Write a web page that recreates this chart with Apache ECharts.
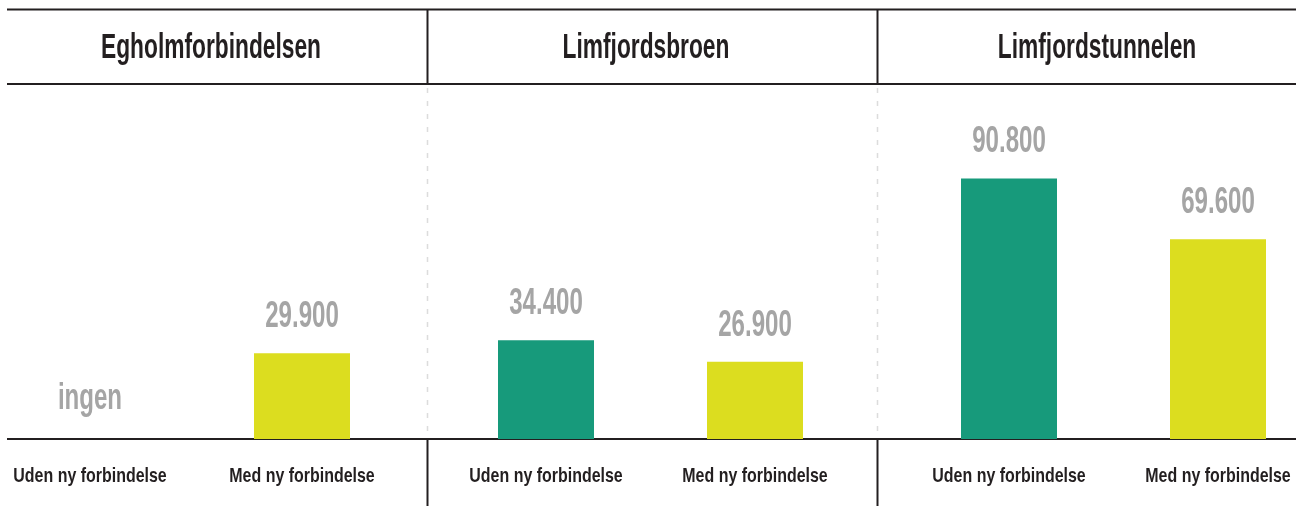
<!DOCTYPE html>
<html>
<head>
<meta charset="utf-8">
<script src="https://cdn.jsdelivr.net/npm/echarts@6/dist/echarts.min.js"></script>
<style>
  html, body { margin: 0; padding: 0; background: #fff; }
  #main { width: 1299px; height: 506px; }
</style>
</head>
<body>
<div id="main"></div>
<script>
var dom = document.getElementById('main');
var myChart = echarts.init(dom);

// data
var panels = ['Egholmforbindelsen', 'Limfjordsbroen', 'Limfjordstunnelen'];
var categories = ['Uden ny forbindelse', 'Med ny forbindelse'];
var udenValues = [0, 34400, 90800];
var medValues = [29900, 26900, 69600];

var barColors = ['#179a7b', '#dcdd1f'];
var textFont = '"Liberation Sans", Arial, sans-serif';

// grid placement per panel (left, width) - categories sit on the grid edges
var gridPos = [[90, 212], [546, 209], [1009, 209]];
var titleX = [211, 646, 1097];

function fmt(v) {
    if (v === 0) return 'ingen';
    return String(v).replace(/\B(?=(\d{3})+(?!\d))/g, '.');
}

// condensed labels: value above bar, category name below baseline
function renderLabels(params, api) {
    var idx = api.value(0);
    var v = api.value(1);
    var top = api.coord([idx, v]);
    var base = api.coord([idx, 0]);
    return {
        type: 'group',
        children: [{
            type: 'text',
            x: top[0],
            y: top[1] - (v === 0 ? 43 : 39) + 2.7,
            scaleX: 0.65,
            style: {
                text: fmt(v),
                font: 'bold 37px ' + textFont,
                fill: '#a5a5a5',
                textAlign: 'center',
                textVerticalAlign: 'middle'
            }
        }, {
            type: 'text',
            x: base[0],
            y: base[1] + 37,
            scaleX: 0.76,
            style: {
                text: categories[idx],
                font: 'bold 21px ' + textFont,
                fill: '#231f20',
                textAlign: 'center',
                textVerticalAlign: 'middle'
            }
        }]
    };
}

var grids = [], xAxes = [], yAxes = [], series = [], graphics = [];

panels.forEach(function (name, i) {
    grids.push({ left: gridPos[i][0], width: gridPos[i][1], top: 152, bottom: 67 });
    xAxes.push({
        type: 'category',
        gridIndex: i,
        data: categories,
        boundaryGap: false,
        axisLine: { show: false },
        axisTick: { show: false },
        axisLabel: { show: false },
        splitLine: { show: false }
    });
    yAxes.push({
        type: 'value',
        gridIndex: i,
        min: 0,
        max: 100000,
        show: false,
        splitLine: { show: false }
    });
    var vals = [udenValues[i], medValues[i]];
    series.push({
        type: 'bar',
        name: name,
        xAxisIndex: i,
        yAxisIndex: i,
        barWidth: 96,
        clip: false,
        data: vals.map(function (v, j) {
            return { value: v, itemStyle: { color: barColors[j] } };
        })
    });
    series.push({
        type: 'custom',
        xAxisIndex: i,
        yAxisIndex: i,
        clip: false,
        silent: true,
        renderItem: renderLabels,
        data: vals.map(function (v, j) { return [j, v]; })
    });
    graphics.push({
        type: 'text',
        x: titleX[i],
        y: 48,
        scaleX: 0.65,
        style: {
            text: name,
            font: 'bold 35px ' + textFont,
            fill: '#231f20',
            textAlign: 'center',
            textVerticalAlign: 'middle'
        }
    });
});

// frame lines
var lineStyle = { stroke: '#231f20', lineWidth: 2 };
[9.5, 84, 439].forEach(function (y) {
    graphics.push({ type: 'line', shape: { x1: 7, y1: y, x2: 1296, y2: y }, style: lineStyle });
});
[427.5, 877.5].forEach(function (x) {
    graphics.push({ type: 'line', shape: { x1: x, y1: 9, x2: x, y2: 84 }, style: lineStyle });
    graphics.push({ type: 'line', shape: { x1: x, y1: 439, x2: x, y2: 506 }, style: lineStyle });
    graphics.push({
        type: 'line',
        shape: { x1: x, y1: 88, x2: x, y2: 438 },
        style: { stroke: '#dcdcdc', lineWidth: 1.5, lineDash: [5, 8] }
    });
});

var option = {
    backgroundColor: '#fff',
    animation: false,
    grid: grids,
    xAxis: xAxes,
    yAxis: yAxes,
    series: series,
    graphic: graphics
};
myChart.setOption(option);
</script>
</body>
</html>
